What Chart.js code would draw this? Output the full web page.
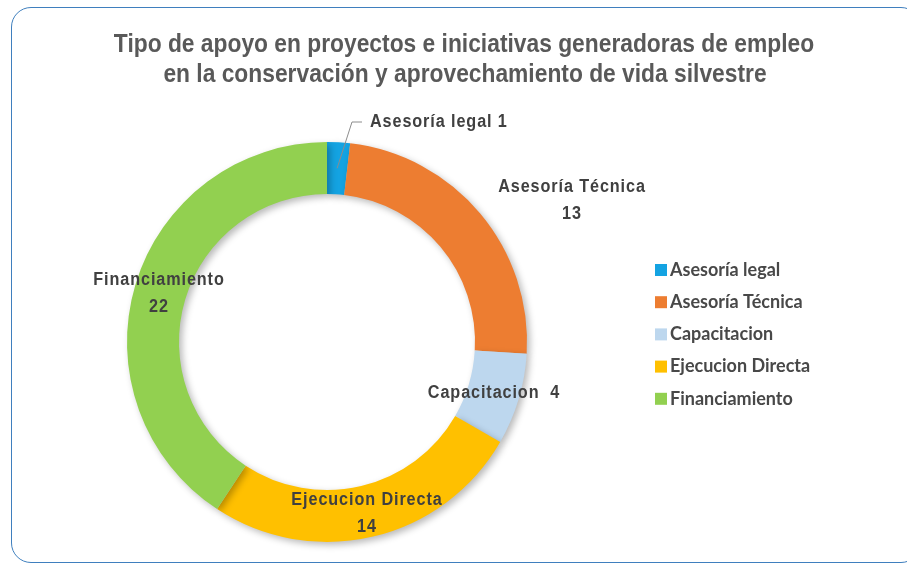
<!DOCTYPE html>
<html>
<head>
<meta charset="utf-8">
<script src="https://cdn.jsdelivr.net/npm/chart.js@4.4.1/dist/chart.umd.min.js"></script>
<style>
  html, body { margin: 0; padding: 0; background: #ffffff; }
  #wrap { position: relative; width: 907px; height: 565px; overflow: hidden; }
  #frame { position: absolute; left: 11px; top: 7px; width: 910px; height: 556px;
           border: 1.5px solid #3F7FBE; border-radius: 20px; box-sizing: border-box; }
  canvas { position: absolute; left: 0; top: 0; }
</style>
</head>
<body>
<div id="wrap">
  <div id="frame"></div>
  <canvas id="c" width="907" height="565"></canvas>
</div>
<script>
// ---- data ----
const titleLines = [
  'Tipo de apoyo en proyectos e iniciativas generadoras de empleo',
  'en la conservación y aprovechamiento de vida silvestre'
];
const categories = ['Asesoría legal', 'Asesoría Técnica', 'Capacitacion', 'Ejecucion Directa', 'Financiamiento'];
const values = [1, 13, 4, 14, 22];
const colors = ['#14A3E2', '#ED7D31', '#BDD7EE', '#FFC000', '#92D050'];

// ---- label layout (style, offsets from the doughnut centre) ----
const labelLayout = [
  { lines: (c, v) => [c + ' ' + v], dx: 43, dy: -220, align: 'left', leader: true },
  { lines: (c, v) => [c, String(v)], dx: 245, dy: -155 },
  { lines: (c, v) => [c + '  ' + v], dx: 167, dy: 51 },
  { lines: (c, v) => [c, String(v)], dx: 40, dy: 158 },
  { lines: (c, v) => [c, String(v)], dx: -168, dy: -62 }
];

const SANS = '"Liberation Sans", Arial, sans-serif';

// draws horizontally condensed text (imitates a narrow face)
function narrowText(ctx, text, x, y, sx, align) {
  ctx.save();
  ctx.translate(x, y);
  ctx.scale(sx, 1);
  ctx.textAlign = align;
  ctx.fillText(text, 0, 0);
  ctx.restore();
}

const decor = {
  id: 'decor',
  beforeDatasetsDraw(chart) {
    const ctx = chart.ctx;
    ctx.save();
    ctx.shadowColor = 'rgba(0,0,0,0.28)';
    ctx.shadowBlur = 7;
    ctx.shadowOffsetX = 3;
    ctx.shadowOffsetY = 3;
  },
  afterDatasetsDraw(chart) {
    chart.ctx.restore();
  },
  afterDraw(chart) {
    const ctx = chart.ctx;
    ctx.save();
    ctx.textBaseline = 'middle';
    // title
    ctx.fillStyle = '#595959';
    ctx.font = 'bold 25px ' + SANS;
    narrowText(ctx, titleLines[0], 464, 45, 0.912, 'center');
    narrowText(ctx, titleLines[1], 465, 75, 0.912, 'center');

    // data labels
    const meta = chart.getDatasetMeta(0);
    const cx = meta.data[0].x, cy = meta.data[0].y;
    ctx.font = 'bold 18px ' + SANS;
    ctx.letterSpacing = '1px';
    ctx.fillStyle = '#404040';
    meta.data.forEach((arc, i) => {
      const L = labelLayout[i];
      const lines = L.lines(categories[i], values[i]);
      lines.forEach((t, k) => {
        narrowText(ctx, t, cx + L.dx, cy + L.dy + k * 27, 0.9, L.align || 'center');
      });
      if (L.leader) {
        const mid = (arc.startAngle + arc.endAngle) / 2;
        const r = (arc.innerRadius + arc.outerRadius) / 2;
        const px = cx + Math.cos(mid) * r;
        const py = cy + Math.sin(mid) * r;
        ctx.strokeStyle = '#8C8C8C';
        ctx.lineWidth = 1;
        ctx.beginPath();
        ctx.moveTo(px, py);
        ctx.lineTo(cx + L.dx - 18, cy + L.dy);
        ctx.lineTo(cx + L.dx - 8, cy + L.dy);
        ctx.stroke();
      }
    });
    ctx.letterSpacing = '0px';

    // legend
    ctx.font = 'bold 18px Lato, "Open Sans", sans-serif';
    ctx.textAlign = 'left';
    categories.forEach((c, i) => {
      const y = 270 + i * 32.2;
      ctx.fillStyle = colors[i];
      ctx.fillRect(655, y - 6, 12, 12);
      ctx.fillStyle = '#484848';
      ctx.fillText(c, 670, y);
    });
    ctx.restore();
  }
};

new Chart(document.getElementById('c'), {
  type: 'doughnut',
  data: {
    labels: categories,
    datasets: [{
      data: values,
      backgroundColor: colors,
      borderWidth: 0,
      hoverOffset: 0
    }]
  },
  options: {
    responsive: false,
    animation: false,
    cutout: '74%',
    layout: { padding: { left: 127, right: 380, top: 142, bottom: 23 } },
    plugins: {
      legend: { display: false },
      title: { display: false },
      tooltip: { enabled: false }
    }
  },
  plugins: [decor]
});
</script>
</body>
</html>
